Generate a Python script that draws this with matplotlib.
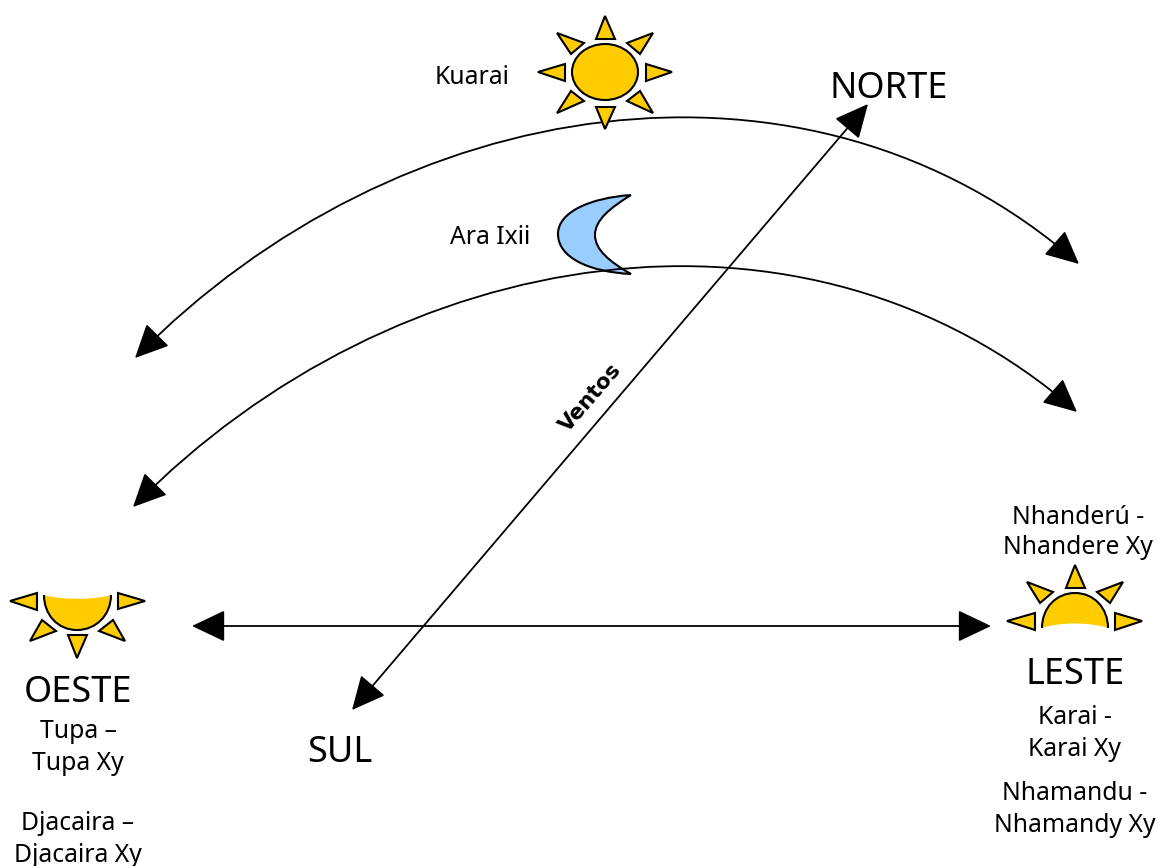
import matplotlib
matplotlib.use("Agg")
import matplotlib.pyplot as plt
from matplotlib.patches import Polygon, Ellipse, PathPatch, FancyArrowPatch, Rectangle
from matplotlib.path import Path

W, H = 1158, 866
YELLOW = "#FFCC00"
BLUE = "#99CCFF"
FONT = ["Noto Sans", "DejaVu Sans"]

small_labels = ["Kuarai", "Ara Ixii", "Tupa –", "Tupa Xy", "Djacaira –", "Djacaira Xy",
                "Nhanderú -", "Nhandere Xy", "Karai -", "Karai Xy", "Nhamandu -", "Nhamandy Xy"]
small_x = [472, 490, 78, 78, 78, 78, 1078, 1078, 1075, 1075, 1075, 1075]
small_y = [78, 237, 732, 764, 823, 855, 517, 548, 718, 749, 794, 826]

big_labels = ["NORTE", "SUL", "OESTE", "LESTE"]
big_x = [889, 340, 78, 1075]
big_y = [89, 753, 693, 675]

arc_top = [(135, 358), (397, 92), (808, 27), (1079, 264)]
arc_low = [(133, 507), (395, 241), (806, 176), (1077, 412)]
axis_ew = [(192, 626), (991, 626)]
axis_ns = [(868, 104), (352, 710)]

sun_center = (605, 72)
sun_size = (66, 56)
sun_rays = [
    [(605, 16), (596, 39), (615, 39)], [(538, 72), (565, 64), (565, 81)],
    [(672, 72), (646, 64), (646, 81)], [(605, 129), (596, 107), (615, 107)],
    [(557, 33), (584, 43), (571, 54)], [(653, 33), (627, 43), (640, 54)],
    [(557, 113), (584, 101), (571, 91)], [(653, 113), (627, 101), (640, 91)],
]
west_rays = [
    [(10, 601), (37, 593), (37, 610)], [(145, 601), (118, 593), (118, 609)],
    [(77, 658), (68, 635), (87, 635)], [(30, 641), (42, 620), (56, 631)],
    [(125, 641), (113, 620), (99, 631)],
]
east_rays = [
    [(1007, 621), (1035, 613), (1035, 630)], [(1142, 621), (1115, 613), (1115, 630)],
    [(1075, 565), (1066, 588), (1085, 588)], [(1027, 582), (1053, 592), (1040, 603)],
    [(1123, 582), (1097, 592), (1110, 603)],
]
moon_outer = [(631, 195), (590, 198), (558, 212), (558, 234), (558, 258), (590, 272), (631, 274)]
moon_inner = [(610, 262), (595, 250), (595, 235), (595, 220), (610, 208), (631, 195)]
west_dome = [(44, 595), (44, 615), (58, 630), (77, 630), (96, 630), (111, 615), (111, 595)]
west_edge = [(95, 600), (60, 600), (44, 595)]
east_dome = [(1042, 628), (1042, 608), (1056, 593), (1075, 593), (1094, 593), (1108, 608), (1108, 628)]
east_edge = [(1090, 622), (1060, 622), (1042, 628)]

fig = plt.figure(figsize=(W / 100, H / 100), dpi=100)
ax = fig.add_axes([0, 0, 1, 1])
ax.set_xlim(0, W)
ax.set_ylim(H, 0)
ax.axis("off")

C4 = Path.CURVE4
ARROW = "<|-|>,head_length=21,head_width=10"

for pts in (arc_top, arc_low):
    path = Path(pts, [Path.MOVETO, C4, C4, C4])
    ax.add_patch(FancyArrowPatch(path=path, arrowstyle=ARROW, mutation_scale=1, lw=1.3,
                                 color="black", shrinkA=0, shrinkB=0, zorder=2))
for pts in (axis_ew, axis_ns):
    ax.add_patch(FancyArrowPatch(pts[0], pts[1], arrowstyle=ARROW, mutation_scale=1, lw=1.3,
                                 color="black", shrinkA=0, shrinkB=0, zorder=2))

for rays in (sun_rays, west_rays, east_rays):
    for r in rays:
        ax.add_patch(Polygon(r, closed=True, fc=YELLOW, ec="black", lw=1.5, joinstyle="miter", zorder=3))
ax.add_patch(Ellipse(sun_center, *sun_size, fc=YELLOW, ec="black", lw=1.5, zorder=3))

for dome, edge in ((west_dome, west_edge), (east_dome, east_edge)):
    fill_verts = dome + edge
    fill_codes = [Path.MOVETO] + [C4] * (len(fill_verts) - 1)
    ax.add_patch(PathPatch(Path(fill_verts, fill_codes), fc=YELLOW, ec="none", zorder=3))
    ax.add_patch(PathPatch(Path(dome, [Path.MOVETO] + [C4] * 6), fc="none", ec="black", lw=1.5, zorder=3))

moon_verts = moon_outer + moon_inner
ax.add_patch(PathPatch(Path(moon_verts, [Path.MOVETO] + [C4] * (len(moon_verts) - 1)),
                       fc=BLUE, ec="black", lw=1.5, zorder=1))
ax.add_patch(Rectangle((30, 703), 100, 14, fc="white", ec="none", zorder=5))

for s, x, y in zip(big_labels, big_x, big_y):
    ax.text(x, y, s, fontsize=26, family=FONT, ha="center", va="center", zorder=4)
for s, x, y in zip(small_labels, small_x, small_y):
    ax.text(x, y, s, fontsize=17.8, family=FONT, ha="center", va="center", zorder=6)

ax.text(591, 398, "Ventos", fontsize=15.5, family="DejaVu Sans", weight="bold", rotation=49,
        rotation_mode="anchor", ha="center", va="center", zorder=6)

fig.savefig("out.png", dpi=100, facecolor="white")
